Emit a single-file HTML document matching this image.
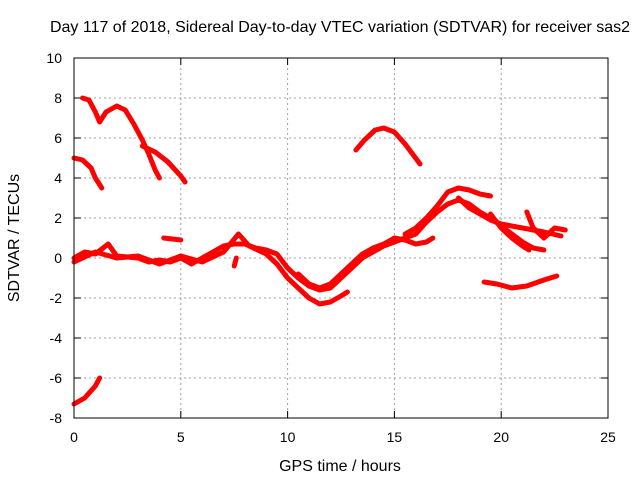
<!DOCTYPE html>
<html><head><meta charset="utf-8"><style>
body{margin:0;background:#fff;}
svg{display:block;font-family:"Liberation Sans",sans-serif;}
</style></head><body>
<svg id="chart" width="640" height="480">
<text x="340" y="32" font-size="16" text-anchor="middle">Day 117 of 2018, Sidereal Day-to-day VTEC variation (SDTVAR) for receiver sas2</text>
<text x="340" y="471" font-size="16" text-anchor="middle">GPS time / hours</text>
<text transform="translate(19,238) rotate(-90)" font-size="16" text-anchor="middle">SDTVAR / TECUs</text>
<g id="grid"></g><g id="ticks"></g><g id="series"></g>
<rect x="74" y="58" width="534" height="360" fill="none" stroke="#000"/>
</svg>
<script>
const xTicks=[0,5,10,15,20,25];
const yTicks=[-8,-6,-4,-2,0,2,4,6,8,10];
const track1=[[0.4,8],[0.7,7.9],[1.0,7.3],[1.2,6.8],[1.5,7.3],[2.0,7.6],[2.4,7.4],[2.8,6.7],[3.2,5.9],[3.5,5.2],[3.8,4.4],[4.0,4.0]];
const track2=[[3.2,5.6],[3.8,5.3],[4.4,4.8],[5.0,4.1],[5.2,3.8]];
const track3=[[0,5.0],[0.4,4.9],[0.8,4.5],[1.0,4.0],[1.3,3.5]];
const track4=[[0,-7.3],[0.5,-7.0],[1.0,-6.4],[1.2,-6.0]];
const track5=[[13.2,5.4],[13.6,5.9],[14.1,6.4],[14.5,6.5],[15,6.3],[15.5,5.7],[16.2,4.7]];
const track6=[[19.2,-1.2],[19.8,-1.3],[20.5,-1.5],[21.2,-1.4],[22,-1.1],[22.6,-0.9]];
const track7=[[0,0],[0.5,0.3],[1,0.2],[1.6,0.7],[2,0.1],[3,0.0],[3.5,-0.2],[4,-0.1],[4.5,-0.2],[5,0.0],[5.5,-0.3],[6,0.0],[6.5,0.3],[7,0.6],[7.5,0.7],[8,0.7],[8.5,0.5],[9,0.4],[9.5,0.2],[10,-0.5],[10.5,-1.0],[11,-1.4],[11.5,-1.6],[12,-1.5],[12.5,-1.0],[13,-0.5],[13.5,0],[14,0.3],[14.5,0.6],[15,0.8],[15.5,1.0],[16,1.2],[16.5,1.8],[17,2.3],[17.5,2.7],[18,2.9],[18.5,2.7],[19,2.3],[19.5,2.0],[20,1.6],[20.5,1.2],[21,0.8],[21.5,0.5],[22,0.4]];
const track8=[[0,-0.2],[1,0.3],[2,0.0],[3,0.1],[4,-0.3],[5,0.1],[6,-0.2],[7,0.3],[7.7,1.2],[8.2,0.6],[9,0.2],[9.5,-0.3],[10,-1.0],[10.5,-1.5],[11,-2.0],[11.5,-2.3],[12,-2.2],[12.5,-1.9],[12.8,-1.7]];
const track9=[[10.5,-0.8],[11,-1.3],[11.5,-1.5],[12,-1.3],[12.5,-0.8],[13,-0.3],[13.5,0.2],[14,0.5],[14.5,0.7],[15,1.0],[15.5,0.9],[16,0.7],[16.5,0.8],[16.8,1.0]];
const track10=[[15.5,1.2],[16,1.5],[16.5,2.0],[17,2.6],[17.5,3.3],[18,3.5],[18.5,3.4],[19,3.2],[19.5,3.1]];
const track11=[[18,3.0],[18.5,2.5],[19,2.2],[19.5,1.9],[20,1.7],[21,1.5],[22,1.3],[22.8,1.1]];
const track12=[[19.5,2.2],[20,1.5],[20.5,1.0],[21,0.6],[21.3,0.4]];
const track13=[[21.2,2.3],[21.5,1.5],[22,1.0],[22.5,1.5],[23,1.4]];
const track14=[[4.2,1.0],[5,0.9]];
const track15=[[7.5,-0.4],[7.55,-0.2],[7.6,0.0]];
const tracks=[track1,track2,track3,track4,track5,track6,track7,track8,track9,track10,track11,track12,track13,track14,track15];
const NS="http://www.w3.org/2000/svg";
const X=v=>74+v*534/25, Y=v=>418-(v+8)*20;
const grid=document.getElementById('grid'),ticks=document.getElementById('ticks'),ser=document.getElementById('series');
function mk(tag,attrs,parent){const e=document.createElementNS(NS,tag);for(const k in attrs)e.setAttribute(k,attrs[k]);parent.appendChild(e);return e;}
xTicks.forEach(t=>{const x=X(t);
 if(t>0&&t<25){const g=mk('line',{x1:x,x2:x,y1:58,y2:418,stroke:'#a0a0a0','stroke-dasharray':'2,3'},grid);
 
 }
 mk('line',{x1:x,x2:x,y1:418,y2:411,stroke:'#000'},ticks);mk('line',{x1:x,x2:x,y1:58,y2:65,stroke:'#000'},ticks);
 const l=mk('text',{x:x,y:442,'font-size':14,'text-anchor':'middle'},ticks);l.textContent=t;
 
 });
yTicks.forEach(t=>{const y=Y(t);
 if(t>-8&&t<10){const g=mk('line',{x1:74,x2:608,y1:y,y2:y,stroke:'#a0a0a0','stroke-dasharray':'2,3'},grid);
 
 }
 mk('line',{x1:74,x2:81,y1:y,y2:y,stroke:'#000'},ticks);mk('line',{x1:608,x2:601,y1:y,y2:y,stroke:'#000'},ticks);
 const l=mk('text',{x:62,y:y+5,'font-size':14,'text-anchor':'end'},ticks);l.textContent=t;
 
 });
tracks.forEach(tr=>{const p=mk('polyline',{points:tr.map(d=>X(d[0])+','+Y(d[1])).join(' '),fill:'none',stroke:'#f00','stroke-width':5,'stroke-linejoin':'round','stroke-linecap':'round'},ser);
 
 });
</script>
</body></html>
